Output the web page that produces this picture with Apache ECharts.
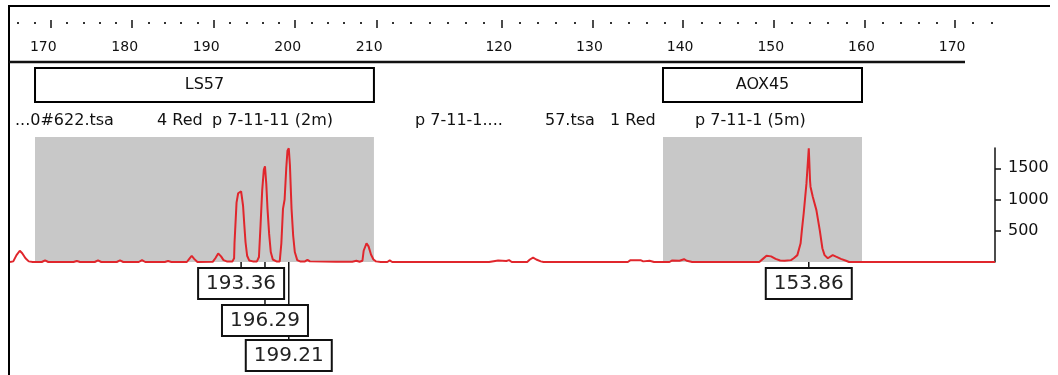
<!DOCTYPE html>
<html><head><meta charset="utf-8">
<script src="https://cdn.jsdelivr.net/npm/echarts@6/dist/echarts.min.js"></script>
<style>html,body{margin:0;padding:0;background:#fff}#c{width:1058px;height:375px}</style>
</head><body><div id="c"></div>
<script>
// ---- data ----
const leftSizes = [165.0,165.4,165.8,166.2,166.5,166.9,167.3,167.8,168.9,169.3,169.7,172.8,173.2,173.6,175.4,175.8,176.2,178.1,178.5,178.9,180.8,181.2,181.6,184.0,184.4,184.8,186.7,187.0,187.3,187.6,188.0,189.9,190.2,190.55,190.9,191.2,191.6,192.3,192.5,192.55,192.8,193.0,193.36,193.6,193.75,193.9,194.1,194.35,194.8,195.3,195.55,195.75,195.95,196.15,196.29,196.45,196.6,196.8,197.0,197.25,197.7,198.1,198.3,198.5,198.7,198.9,199.05,199.21,199.35,199.55,199.75,199.95,200.25,200.6,201.2,201.5,201.8,205.0,207.0,207.5,207.9,208.25,208.4,208.75,209.0,209.3,209.6,209.9,210.5,211.3,211.6,211.9,212.0];
const leftRFU   = [0,10,110,180,140,60,10,0,0,25,0,0,15,0,0,25,0,0,25,0,0,30,0,0,15,0,0,50,100,50,0,5,60,135,90,30,10,10,60,300,950,1100,1130,900,600,320,100,25,10,10,80,600,1150,1480,1530,1250,850,450,160,40,10,10,300,850,1000,1500,1780,1820,1550,850,420,160,30,10,10,35,10,5,5,20,5,20,180,300,250,120,40,10,0,0,25,0,0];
const rightSizes = [108,118.6,118.8,119.6,119.8,120.5,120.8,121.1,122.8,123.1,123.45,123.8,124.3,124.6,133.9,134.2,135.3,135.6,136.3,136.8,138.5,138.8,139.6,140.1,140.4,141.0,145.3,145.5,145.7,148.4,148.8,149.2,149.7,150.2,150.7,151.2,151.9,152.2,152.6,152.96,153.1,153.3,153.6,153.86,154.0,154.05,154.3,154.7,155.07,155.36,155.6,155.96,156.5,156.87,157.4,157.97,158.3,174.4];
const rightRFU   = [0,0,25,25,10,15,30,0,0,40,70,40,10,0,0,30,30,10,20,0,0,25,20,45,20,0,0,15,0,0,50,100,90,50,25,20,30,60,110,300,510,780,1250,1820,1300,1205,1045,830,510,220,110,60,110,85,50,20,0,0];

const leftRange = [165, 212];
const rightRange = [108, 174.4];
const leftTicks = [170, 180, 190, 200, 210];
const rightTicks = [120, 130, 140, 150, 160, 170];
const yTicks = [500, 1000, 1500];
const markerNames = ['LS57', 'AOX45'];
const markerBins = [[168.07, 209.66], [137.78, 159.73]];
const leftCalls = [193.36, 196.29, 199.21];
const rightCalls = [153.86];
const sampleTexts = ['...0#622.tsa', '4 Red', 'p 7-11-11 (2m)', 'p 7-11-1....', '57.tsa', '1 Red', 'p 7-11-1 (5m)'];

// ---- layout ----
const sampleX = [15, 157, 212, 415, 545, 610, 695];
function minorTicks(r, majors){
  const out=[]; for(let v=Math.ceil(r[0]/2)*2; v<=r[1]+1e-9; v+=2){ if(!majors.includes(v)) out.push(v); }
  return out;
}
const leftMinor = minorTicks(leftRange, leftTicks);
const rightMinor = minorTicks([110, rightRange[1]], rightTicks);

const FONT = 'DejaVu Sans';
const chart = echarts.init(document.getElementById('c'), null, {renderer:'canvas'});
const gridTop = 137, gridH = 125;
function rulerMajor(grid, ticks, pad){
  return {type:'value', gridIndex:grid, position:'top', offset:117,
    min: grid===0?leftRange[0]:rightRange[0], max: grid===0?leftRange[1]:rightRange[1],
    axisLine:{show:false, onZero:false}, splitLine:{show:false},
    axisTick:{show:true, inside:true, length:8, customValues:ticks, lineStyle:{color:'#111', width:1.5}},
    axisLabel:{show:true, inside:true, margin:20, customValues:ticks, color:'#111', fontFamily:FONT, fontSize:14, padding:[0,pad,0,0]}};
}
function rulerMinor(grid, ticks){
  return {type:'value', gridIndex:grid, position:'top', offset:115,
    min: grid===0?leftRange[0]:rightRange[0], max: grid===0?leftRange[1]:rightRange[1],
    axisLine:{show:false, onZero:false}, splitLine:{show:false},
    axisTick:{show:true, inside:true, length:2, customValues:ticks, lineStyle:{color:'#333', width:2}},
    axisLabel:{show:false}};
}
const option = {
  animation:false,
  grid:[
    {left:10, width:383, top:gridTop, height:gridH},
    {left:393, width:602, top:gridTop, height:gridH},
    {left:900, width:95, top:148, height:114}
  ],
  xAxis:[
    {type:'value', gridIndex:0, min:leftRange[0], max:leftRange[1], show:false},
    rulerMajor(0, leftTicks, 15),
    rulerMinor(0, leftMinor),
    {type:'value', gridIndex:1, min:rightRange[0], max:rightRange[1], show:false},
    rulerMajor(1, rightTicks, 6),
    rulerMinor(1, rightMinor),
    {type:'value', gridIndex:2, min:0, max:1, show:false}
  ],
  yAxis:[
    {type:'value', gridIndex:0, min:0, max:2000, show:false},
    {type:'value', gridIndex:1, min:0, max:2000, show:false},
    {type:'value', gridIndex:2, min:0, max:1824, position:'right',
      axisLine:{show:true, onZero:false, lineStyle:{color:'#111', width:1.5}},
      axisTick:{show:true, length:6, customValues:yTicks, lineStyle:{color:'#111', width:1.5}},
      axisLabel:{show:true, margin:13, customValues:yTicks, formatter:(v)=>String(v), color:'#111', fontFamily:FONT, fontSize:16},
      splitLine:{show:false}}
  ],
  series:[
    {type:'line', xAxisIndex:0, yAxisIndex:0, data:leftSizes.map((s,i)=>[s,leftRFU[i]]),
      showSymbol:false, lineStyle:{color:'#e0262c', width:2}, z:3,
      markArea:{silent:true, itemStyle:{color:'#c8c8c8'}, data:[[{xAxis:markerBins[0][0]},{xAxis:markerBins[0][1]}]]}},
    {type:'line', xAxisIndex:3, yAxisIndex:1, data:rightSizes.map((s,i)=>[s,rightRFU[i]]),
      showSymbol:false, lineStyle:{color:'#e0262c', width:2}, z:3,
      markArea:{silent:true, itemStyle:{color:'#c8c8c8'}, data:[[{xAxis:markerBins[1][0]},{xAxis:markerBins[1][1]}]]}}
  ]
};
chart.setOption(option);

// ---- annotations derived from data ----
const g = [];
g.push({type:'polyline', shape:{points:[[9,375],[9,6],[1050,6]]}, style:{stroke:'#000', lineWidth:2, fill:null}, z:10});
g.push({type:'line', shape:{x1:9, y1:62, x2:965, y2:62}, style:{stroke:'#111', lineWidth:2.5}, z:10});
sampleTexts.forEach((t,i)=>{
  g.push({type:'text', x:sampleX[i], y:121, style:{text:t, font:'16px "'+FONT+'"', fill:'#111', textVerticalAlign:'middle', textAlign:'left'}, z:10});
});
const xAxisOf = [0, 3];
markerBins.forEach((b,i)=>{
  const x0 = chart.convertToPixel({xAxisIndex:xAxisOf[i]}, b[0]);
  const x1 = chart.convertToPixel({xAxisIndex:xAxisOf[i]}, b[1]);
  g.push({type:'rect', shape:{x:x0, y:68, width:x1-x0, height:34}, style:{fill:'#fff', stroke:'#000', lineWidth:2}, z:10});
  g.push({type:'text', x:(x0+x1)/2, y:85, style:{text:markerNames[i], font:'16px "'+FONT+'"', fill:'#111', textAlign:'center', textVerticalAlign:'middle'}, z:11});
});
const rowTops = [268, 305, 340];
const baseY = chart.convertToPixel({yAxisIndex:0}, 0);
function addCalls(calls, axisIdx){
  calls.forEach((c,i)=>{
    const x = chart.convertToPixel({xAxisIndex:axisIdx}, c);
    g.push({type:'line', shape:{x1:x, y1:baseY, x2:x, y2:rowTops[i]}, style:{stroke:'#111', lineWidth:1.5}, z:12});
  });
  calls.forEach((c,i)=>{
    const x = chart.convertToPixel({xAxisIndex:axisIdx}, c);
    g.push({type:'rect', shape:{x:x-43, y:rowTops[i], width:86, height:31}, style:{fill:'#fff', stroke:'#111', lineWidth:2}, z:13});
    g.push({type:'text', x:x, y:rowTops[i]+16, style:{text:c.toFixed(2), font:'20px "'+FONT+'"', fill:'#222', textAlign:'center', textVerticalAlign:'middle'}, z:14});
  });
}
addCalls(leftCalls, 0);
addCalls(rightCalls, 3);
chart.setOption({graphic:g});
</script></body></html>
